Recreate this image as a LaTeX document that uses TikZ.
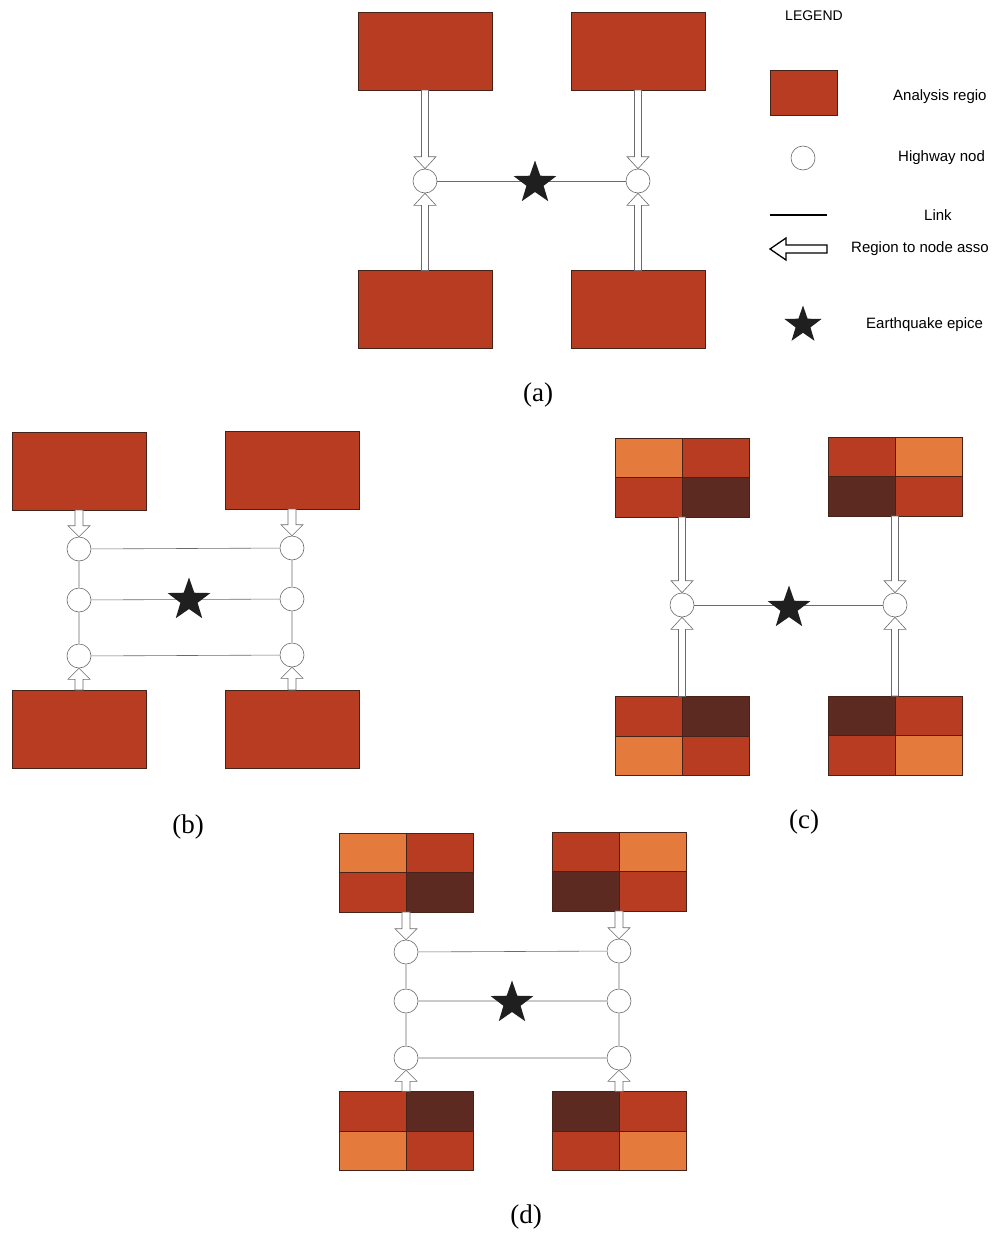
\documentclass[tikz,border=0pt]{standalone}
\usepackage{fontspec}
\setmainfont{Liberation Serif}
\setsansfont{Liberation Sans}
\usetikzlibrary{shapes.geometric,calc}
\definecolor{regred}{RGB}{184,60,34}
\definecolor{regorange}{RGB}{228,122,60}
\definecolor{regdark}{RGB}{92,42,32}
\definecolor{regedge}{RGB}{70,35,25}
\definecolor{linkgray}{RGB}{110,105,110}
\tikzset{
 region/.style={draw=regedge, fill=regred, line width=0.8pt, minimum width=134pt, minimum height=78pt, inner sep=0, outer sep=0},
 gregion/.style={minimum width=134pt, minimum height=79pt, inner sep=0, outer sep=0},
 hnode/.style={circle, draw=linkgray, fill=white, line width=0.6pt, minimum size=24pt, inner sep=0},
 link/.style={draw=linkgray, line width=0.6pt},
 assoc/.style={draw=linkgray, fill=white, line width=0.6pt, line join=miter},
 legassoc/.style={draw=black, fill=white, line width=1.3pt, line join=miter},
 quake/.style={star, star points=5, star point ratio=2.5, fill=black!88, draw=none, minimum size=45pt, inner sep=0},
 legtext/.style={font=\sffamily\fontsize{15}{17}\selectfont, anchor=west, inner sep=0},
 captext/.style={font=\fontsize{27}{30}\selectfont, inner sep=0}
}
% #1 style, #2 start, #3 tip, #4 shaft half width, #5 head half width, #6 head length
\newcommand{\assocarrow}[6]{%
 \coordinate (aH) at ($(#3)!#6!(#2)$);
 \draw[#1] ($(#2)!#4!90:(#3)$) -- ($(aH)!#4!-90:(#2)$) -- ($(aH)!#5!-90:(#2)$) -- (#3)
   -- ($(aH)!#5!90:(#2)$) -- ($(aH)!#4!90:(#2)$) -- ($(#2)!#4!-90:(#3)$) -- cycle;
}
% #1 name, #2 position, #3 TL, #4 TR, #5 BL, #6 BR
\newcommand{\gridreg}[6]{%
 \node[gregion] (#1) at (#2) {};
 \fill[#3] (#1.north west) rectangle (#1.center);
 \fill[#4] (#1.north) rectangle (#1.east);
 \fill[#5] (#1.west) rectangle (#1.south);
 \fill[#6] (#1.center) rectangle (#1.south east);
 \draw[regedge, line width=0.8pt] (#1.north west) rectangle (#1.south east)
   (#1.north) -- (#1.south) (#1.west) -- (#1.east);
}
\begin{document}
\begin{tikzpicture}[x=1pt, y=-1pt]
\useasboundingbox[fill=white] (0,0) rectangle (992,1234);

% ---------- panel (a) ----------
\node[region] (ra1) at (425,51) {};
\node[region] (ra2) at (638,51) {};
\node[region] (ra3) at (425,309.5) {};
\node[region] (ra4) at (638,309.5) {};
\node[hnode] (na1) at (425,181) {};
\node[hnode] (na2) at (638,181) {};
\draw[link] (na1) -- (na2);
\node[quake] (sa) at (535,183) {};
\assocarrow{assoc}{ra1.south}{na1.north}{3.5pt}{11pt}{12pt}
\assocarrow{assoc}{ra3.north}{na1.south}{3.5pt}{11pt}{12pt}
\assocarrow{assoc}{ra2.south}{na2.north}{3.5pt}{11pt}{12pt}
\assocarrow{assoc}{ra4.north}{na2.south}{3.5pt}{11pt}{12pt}
\node[captext] (capa) at (538,395) {(a)};

% ---------- legend ----------
\node[font=\sffamily\fontsize{14}{16}\selectfont] (legt) at (814,16) {LEGEND};
\node[region, minimum width=67pt, minimum height=45pt] (lreg) at (803.5,92.5) {};
\node[legtext] (lregt) at (893,97) {Analysis regio};
\node[hnode] (lnode) at (803,158) {};
\node[legtext] (lnodet) at (898,158) {Highway nod};
\coordinate (ll0) at (770,215);
\coordinate (ll1) at (827,215);
\draw[black, line width=1.5pt] (ll0) -- (ll1);
\node[legtext] (llinkt) at (924,215) {Link};
\coordinate (lar0) at (827,249);
\coordinate (lar1) at (770,249);
\assocarrow{legassoc}{lar0}{lar1}{4pt}{11pt}{16pt}
\node[legtext] (lart) at (851,249) {Region to node asso};
\node[quake, minimum size=39pt] (lstar) at (803,325) {};
\node[legtext] (lstart) at (866,325) {Earthquake epice};

% ---------- panel (b) ----------
\node[region] (rb1) at (79,471) {};
\node[region] (rb2) at (292,470) {};
\node[region] (rb3) at (79,729) {};
\node[region] (rb4) at (292,729) {};
\node[hnode] (nb1) at (79,549) {};
\node[hnode] (nb2) at (79,600) {};
\node[hnode] (nb3) at (79,656) {};
\node[hnode] (nb4) at (292,548) {};
\node[hnode] (nb5) at (292,599) {};
\node[hnode] (nb6) at (292,655) {};
\draw[link] (nb1) -- (nb2) (nb2) -- (nb3) (nb4) -- (nb5) (nb5) -- (nb6)
  (nb1) -- (nb4) (nb2) -- (nb5) (nb3) -- (nb6);
\node[quake] (sb) at (189,600) {};
\assocarrow{assoc}{rb1.south}{nb1.north}{4pt}{11pt}{11pt}
\assocarrow{assoc}{rb2.south}{nb4.north}{4pt}{11pt}{11pt}
\assocarrow{assoc}{rb3.north}{nb3.south}{4pt}{11pt}{11pt}
\assocarrow{assoc}{rb4.north}{nb6.south}{4pt}{11pt}{11pt}
\node[captext] (capb) at (188,827) {(b)};

% ---------- panel (c) ----------
\gridreg{rc1}{682,477.5}{regorange}{regred}{regred}{regdark}
\gridreg{rc2}{895,476.5}{regred}{regorange}{regdark}{regred}
\gridreg{rc3}{682,736}{regred}{regdark}{regorange}{regred}
\gridreg{rc4}{895,735.5}{regdark}{regred}{regred}{regorange}
\node[hnode] (nc1) at (682,605) {};
\node[hnode] (nc2) at (895,605) {};
\draw[link] (nc1) -- (nc2);
\node[quake] (sc) at (789,608) {};
\assocarrow{assoc}{rc1.south}{nc1.north}{3.5pt}{11pt}{12pt}
\assocarrow{assoc}{rc2.south}{nc2.north}{3.5pt}{11pt}{12pt}
\assocarrow{assoc}{rc3.north}{nc1.south}{3.5pt}{11pt}{12pt}
\assocarrow{assoc}{rc4.north}{nc2.south}{3.5pt}{11pt}{12pt}
\node[captext] (capc) at (804,822) {(c)};

% ---------- panel (d) ----------
\gridreg{rd1}{406,872.5}{regorange}{regred}{regred}{regdark}
\gridreg{rd2}{619,871.5}{regred}{regorange}{regdark}{regred}
\gridreg{rd3}{406,1131}{regred}{regdark}{regorange}{regred}
\gridreg{rd4}{619,1131}{regdark}{regred}{regred}{regorange}
\node[hnode] (nd1) at (406,952) {};
\node[hnode] (nd2) at (406,1001) {};
\node[hnode] (nd3) at (406,1058) {};
\node[hnode] (nd4) at (619,951) {};
\node[hnode] (nd5) at (619,1001) {};
\node[hnode] (nd6) at (619,1058) {};
\draw[link] (nd1) -- (nd2) (nd2) -- (nd3) (nd4) -- (nd5) (nd5) -- (nd6)
  (nd1) -- (nd4) (nd2) -- (nd5) (nd3) -- (nd6);
\node[quake] (sd) at (512,1003) {};
\assocarrow{assoc}{rd1.south}{nd1.north}{4pt}{11pt}{11pt}
\assocarrow{assoc}{rd2.south}{nd4.north}{4pt}{11pt}{11pt}
\assocarrow{assoc}{rd3.north}{nd3.south}{4pt}{11pt}{11pt}
\assocarrow{assoc}{rd4.north}{nd6.south}{4pt}{11pt}{11pt}
\node[captext] (capd) at (526,1217) {(d)};
\end{tikzpicture}
\end{document}
